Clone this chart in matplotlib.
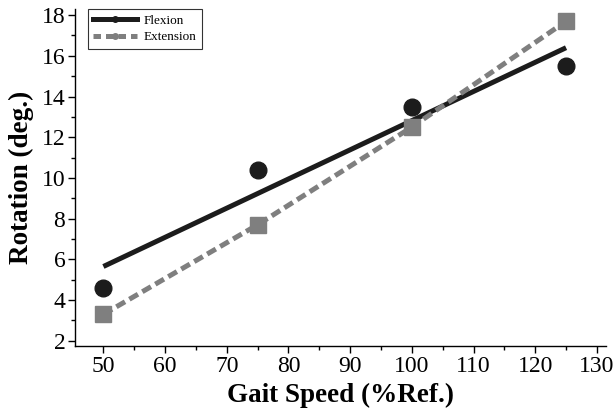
import matplotlib
matplotlib.use("Agg")
import matplotlib.pyplot as plt
from matplotlib.ticker import MultipleLocator
from matplotlib.lines import Line2D

speed = [50, 75, 100, 125]
flexion = [4.6, 10.4, 13.5, 15.5]
extension = [3.3, 7.7, 12.5, 17.7]
flexion_fit_x = [50, 125]
flexion_fit_y = [5.65, 16.4]

plt.rcParams['font.family'] = ['Liberation Serif', 'DejaVu Serif']

fig = plt.figure(figsize=(6.16, 4.11), dpi=100)
ax = fig.add_axes([0.1218, 0.158, 0.983 - 0.1218, 0.978 - 0.158])

dark = '#1c1c1c'
gray = '#7f7f7f'

ax.plot(flexion_fit_x, flexion_fit_y, color=dark, lw=3.6, solid_capstyle='butt', zorder=2)
ax.plot(speed, extension, color=gray, lw=3.6, dashes=(2.0, 1.0), zorder=2)
ax.plot(speed, flexion, 'o', color=dark, ms=12, zorder=3)
ax.plot(speed, extension, 's', color=gray, ms=11, zorder=3)

ax.set_xlim(45.4, 131.4)
ax.set_ylim(1.74, 18.3)
ax.xaxis.set_major_locator(MultipleLocator(10))
ax.xaxis.set_minor_locator(MultipleLocator(5))
ax.yaxis.set_major_locator(MultipleLocator(2))
ax.yaxis.set_minor_locator(MultipleLocator(1))
ax.spines['top'].set_visible(False)
ax.spines['right'].set_visible(False)
for s in ('left', 'bottom'):
    ax.spines[s].set_linewidth(1.0)
ax.tick_params(which='major', direction='out', length=5, width=1, labelsize=17)
ax.tick_params(axis='x', which='major', pad=2)
ax.tick_params(axis='y', which='major', pad=2)
ax.tick_params(which='minor', direction='out', length=3, width=1)

ax.set_xlabel('Gait Speed (%Ref.)', fontsize=19.5, fontweight='bold')
ax.set_ylabel('Rotation (deg.)', fontsize=19.5, fontweight='bold')
ax.yaxis.set_label_coords(-0.077, 0.5)
ax.xaxis.set_label_coords(0.5, -0.108)

handles = [Line2D([], [], color=dark, lw=3.6, marker='o', ms=4),
           Line2D([], [], color=gray, lw=3.6, dashes=(1.5, 1.0), marker='o', ms=4)]
leg = ax.legend(handles, ['Flexion', 'Extension'], loc='upper left',
                bbox_to_anchor=(0.0245, 1.0), borderaxespad=0, fontsize=9.5,
                frameon=True, fancybox=False,
                edgecolor='black', handlelength=3.3, handletextpad=0.5,
                borderpad=0.4, labelspacing=0.35)
leg.get_frame().set_linewidth(0.8)

fig.savefig('out.png', dpi=100)
